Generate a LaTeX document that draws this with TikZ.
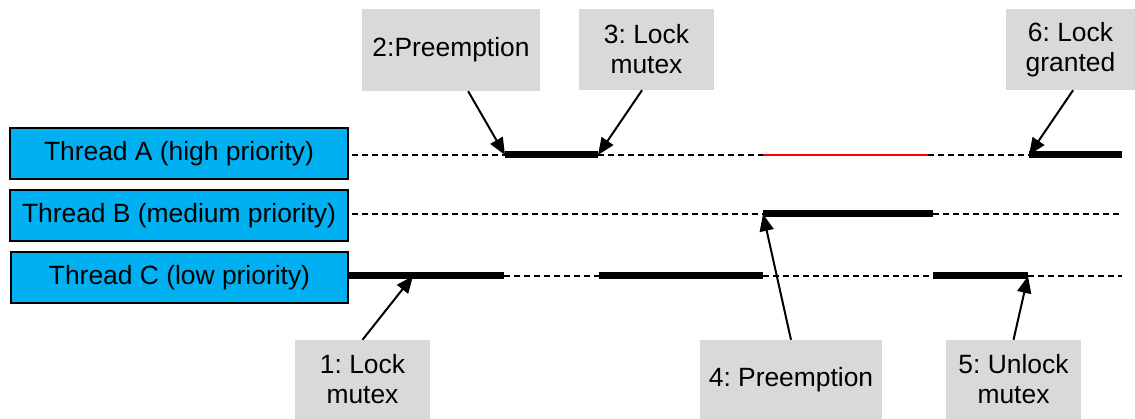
\documentclass[tikz,border=0pt]{standalone}
\usepackage{fontspec}
\setmainfont{Liberation Sans}
\usetikzlibrary{arrows.meta,calc}
\definecolor{threadblue}{HTML}{00B0F0}
\definecolor{notegray}{HTML}{D9D9D9}
\frenchspacing
\begin{document}
\begin{tikzpicture}[x=1pt,y=-1pt,
  threadbox/.style={draw=black,line width=2pt,fill=threadblue,inner sep=0pt,
    minimum width=338pt,minimum height=51pt,
    font=\fontsize{26.4}{30}\selectfont},
  note/.style={fill=notegray,inner sep=0pt,align=center,
    font=\fontsize{26.4}{30}\selectfont},
  idle/.style={line width=1.3pt,dash pattern=on 6pt off 4pt},
  busy/.style={line width=7pt},
  blocked/.style={line width=1.5pt,red},
  pointer/.style={line width=2pt,-{Triangle[length=17pt,width=14pt]}}]
\useasboundingbox (0,0) rectangle (1135,419);

% thread labels
\node[threadbox] (ta) at (179,154) {Thread A (high priority)};
\node[threadbox] (tb) at (179,215.5) {Thread B (medium priority)};
\node[threadbox,minimum width=337pt] (tc) at (179.5,277.5) {Thread C (low priority)};

% time line of thread A
\coordinate (a0) at (352,155);
\coordinate (a1) at (505,155);
\coordinate (a2) at (598,155);
\coordinate (a3) at (763,155);
\coordinate (a4) at (928,155);
\coordinate (a5) at (1029,155);
\coordinate (a6) at (1122,155);
\draw[idle] (a0) -- (a1);
\draw[busy] (a1) -- (a2);
\draw[idle] (a2) -- (a3);
\draw[blocked] (a3) -- (a4);
\draw[idle] (a4) -- (a5);
\draw[busy] (a5) -- (a6);

% time line of thread B
\coordinate (b0) at (352,214);
\coordinate (b1) at (763,214);
\coordinate (b2) at (933,214);
\coordinate (b3) at (1122,214);
\draw[idle] (b0) -- (b1);
\draw[busy] (b1) -- (b2);
\draw[idle] (b2) -- (b3);

% time line of thread C
\coordinate (c0) at (348,276);
\coordinate (c1) at (504,276);
\coordinate (c2) at (599,276);
\coordinate (c3) at (763,276);
\coordinate (c4) at (933,276);
\coordinate (c5) at (1028,276);
\coordinate (c6) at (1122,276);
\coordinate (clock) at (413,276);
\draw[busy] (c0) -- (c1);
\draw[idle] (c1) -- (c2);
\draw[busy] (c2) -- (c3);
\draw[idle] (c3) -- (c4);
\draw[busy] (c4) -- (c5);
\draw[idle] (c5) -- (c6);

% event notes
\node[note,minimum width=178pt,minimum height=82pt] (n2) at (451,50) {2:Preemption};
\node[note,minimum width=135pt,minimum height=81pt] (n3) at (646.5,49.5) {3: Lock\\mutex};
\node[note,minimum width=129pt,minimum height=81pt] (n6) at (1070.5,49.5) {6: Lock\\granted};
\node[note,minimum width=135pt,minimum height=79pt] (n1) at (362.5,379.5) {1: Lock\\mutex};
\node[note,minimum width=182pt,minimum height=79pt] (n4) at (791,379.5) {4: Preemption};
\node[note,minimum width=135pt,minimum height=79pt] (n5) at (1013.5,379.5) {5: Unlock\\mutex};

% event pointers
\draw[pointer] ($(n2.south west)!0.596!(n2.south east)$) -- (a1);
\draw[pointer] ($(n3.south west)!0.467!(n3.south east)$) -- (a2);
\draw[pointer] ($(n6.south west)!0.52!(n6.south east)$) -- (a5);
\draw[pointer] (n1.north) -- (clock);
\draw[pointer] (n4.north) -- (b1);
\draw[pointer] (n5.north) -- (c5);
\end{tikzpicture}
\end{document}
